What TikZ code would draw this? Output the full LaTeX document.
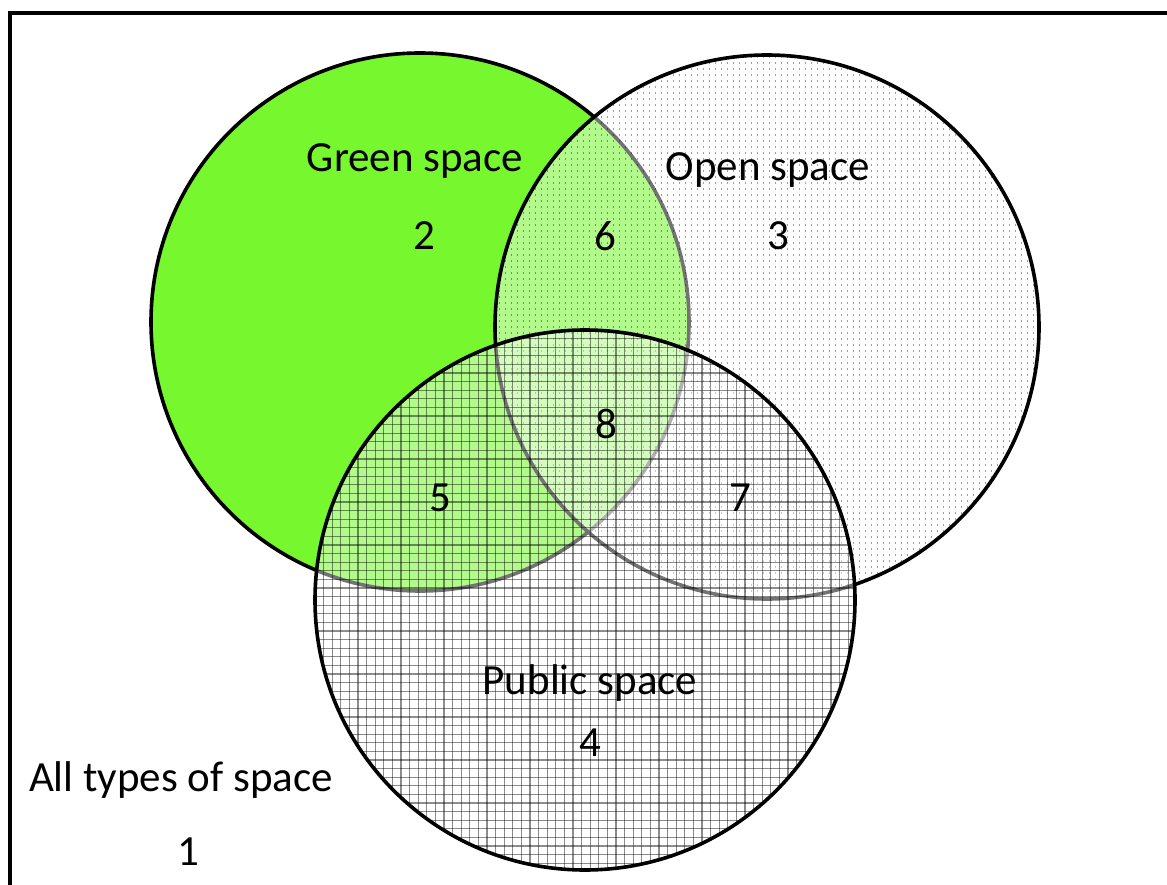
\documentclass[tikz,border=0pt]{standalone}
\usepackage{fontspec}
\setmainfont{Carlito}
\definecolor{greenfill}{RGB}{118,247,46}
\begin{document}
\begin{tikzpicture}[x=1pt,y=-1pt,
  ring/.style={line width=3.6pt, draw=black},
  veil/.style={fill=white, fill opacity=0.45},
  dotrow/.style={line width=1.3pt, draw=black, draw opacity=0.38, dash pattern=on 1.3pt off 4.7pt},
  gridline/.style={line width=1.1pt, draw=black, draw opacity=0.45},
  txt/.style={font=\fontsize{43}{50}\selectfont, inner sep=0pt, anchor=center}]
\useasboundingbox (0,0) rectangle (1167,885);
\clip (0,0) rectangle (1167,885);
\fill[white] (0,0) rectangle (1167,885);

% outer frame (continues past the right and bottom edges)
\coordinate (fb) at (10,900);
\coordinate (fc) at (10,13);
\coordinate (fr) at (1190,13);
\draw[line width=4.5pt] (fb) -- (fc) -- (fr);

% circle centres
\coordinate (G) at (420,322);
\coordinate (O) at (767,327);
\coordinate (P) at (585,600);

% green space
\fill[greenfill] (G) circle[radius=269pt];
\draw[ring] (G) circle[radius=269pt];

% open space: translucent veil with dotted texture
\fill[veil] (O) circle[radius=272pt];
\begin{scope}
  \clip (O) circle[radius=272pt];
  \foreach \y in {57,63,...,603}
    \draw[dotrow] (493,\y) -- (1042,\y);
\end{scope}
\draw[ring] (O) circle[radius=272pt];

% public space: translucent veil with grid texture
\fill[veil] (P) circle[radius=270pt];
\begin{scope}
  \clip (P) circle[radius=270pt];
  \foreach \i in {0,...,64} {
    \draw[gridline] (315+\i*8.6,328) -- (315+\i*8.6,872);
    \draw[gridline] (313,330+\i*8.6) -- (857,330+\i*8.6);
  }
\end{scope}
\draw[ring] (P) circle[radius=270pt];

% labels
\node[txt] (tg) at (415,161) {Green space};
\node[txt] (n2) at (424,236) {2};
\node[txt] (to) at (768,170) {Open space};
\node[txt] (n3) at (778,236) {3};
\node[txt] (n6) at (605,236) {6};
\node[txt] (n8) at (606,424) {8};
\node[txt] (n5) at (440,498) {5};
\node[txt] (n7) at (740,498) {7};
\node[txt] (tp) at (590,683) {Public space};
\node[txt] (n4) at (590,743) {4};
\node[txt] (ta) at (181,780) {All types of space};
\node[txt] (n1) at (188,852) {1};
\end{tikzpicture}
\end{document}
